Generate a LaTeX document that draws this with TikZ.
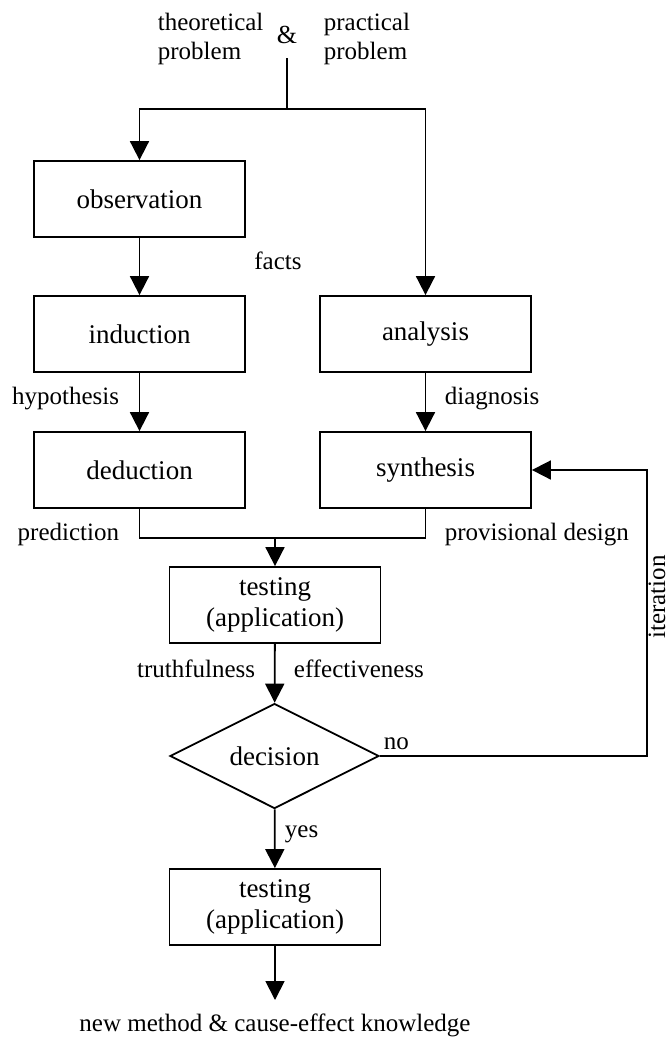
\documentclass[tikz,border=0pt]{standalone}
\usepackage{fontspec}
\setmainfont{Liberation Serif}
\usetikzlibrary{arrows.meta,shapes.geometric}
\begin{document}
\begin{tikzpicture}[x=1pt,y=-1pt,
  line width=1.8pt,
  stage/.style={draw,rectangle,minimum width=211pt,minimum height=76pt,
    inner sep=0pt,align=center,font=\fontsize{27}{31}\selectfont},
  choice/.style={draw,diamond,aspect=2,minimum width=209pt,minimum height=105pt,
    inner sep=0pt,font=\fontsize{27}{31}\selectfont},
  lbl/.style={inner sep=0pt,font=\fontsize{25}{29}\selectfont},
  flow/.style={-{Triangle[length=19pt,width=19pt]}},
]
\useasboundingbox (0,0) rectangle (670,1039);

% starting problems
\node[lbl,align=left,anchor=north west] (theo) at (157,12) {theoretical\\problem};
\node[lbl,align=left,anchor=north west] (prac) at (323,12) {practical\\problem};
\node[inner sep=0pt,font=\fontsize{26}{31}\selectfont,anchor=base] (amp) at (287,43) {\&};

% process stages
\node[stage] (obs)   at (139.5,199) {observation};
\node[stage] (ind)   at (139.5,334) {induction};
\node[stage] (ana)   at (425.5,334) {analysis};
\node[stage] (ded)   at (139.5,470) {deduction};
\node[stage] (syn)   at (425.5,470) {synthesis};
\node[stage] (test1) at (275,605)   {testing\\(application)};
\node[choice] (dec)  at (274.5,756) {decision};
\node[stage] (test2) at (275,907)   {testing\\(application)};

% connector labels
\node[lbl,anchor=base] (facts) at (278,269) {facts};
\node[lbl,anchor=base east] (hyp) at (120,404) {hypothesis};
\node[lbl,anchor=base west] (diag) at (444,404) {diagnosis};
\node[lbl,anchor=base east] (pred) at (120,540) {prediction};
\node[lbl,anchor=base west] (prov) at (444,540) {provisional design};
\node[lbl,anchor=base east] (truth) at (256,677) {truthfulness};
\node[lbl,anchor=base west] (effect) at (293,677) {effectiveness};
\node[lbl,anchor=base west] (no) at (383,749) {no};
\node[lbl,anchor=base west] (yes) at (284,837) {yes};
\node[lbl,rotate=90,anchor=base,text depth=0pt] (iter) at (665,597) {iteration};
\node[lbl,anchor=base] (result) at (275,1031) {new method \& cause-effect knowledge};

% connectors
\coordinate (src) at (287,58);
\coordinate (split) at (287,109);
\draw (src) -- (split);
\draw[flow] (split) -| (obs.north);
\draw[flow] (split) -| (ana.north);
\draw[flow] (obs) -- (ind);
\draw[flow] (ind) -- (ded);
\draw[flow] (ana) -- (syn);
\coordinate (merge) at (275,538);
\draw (ded.south) |- (merge) -| (syn.south);
\draw[flow] (merge) -- (test1);
\draw[flow] (test1) -- (dec);
\coordinate (loop) at (647,756);
\draw[flow] (dec.east) -- (loop) |- (syn.east);
\draw[flow] (dec) -- (test2);
\coordinate (sink) at (275,1000);
\draw[flow] (test2) -- (sink);
\end{tikzpicture}
\end{document}
